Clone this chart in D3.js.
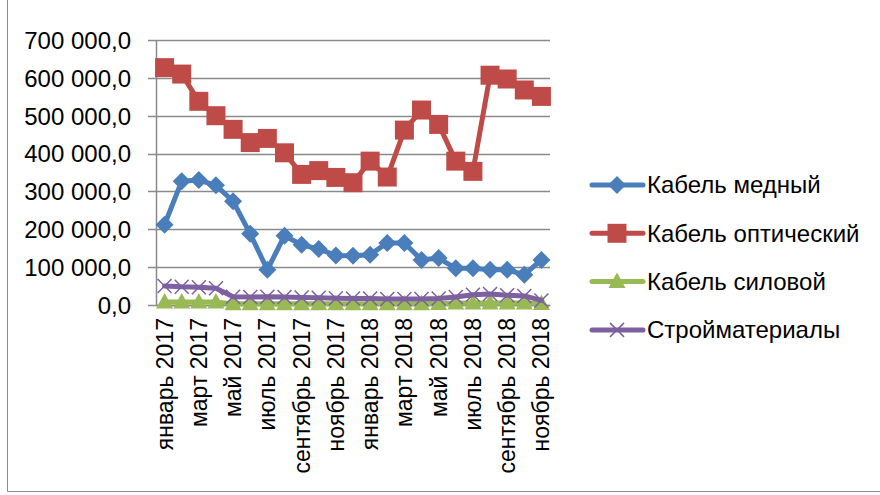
<!DOCTYPE html>
<html>
<head>
<meta charset="utf-8">
<script src="https://cdn.jsdelivr.net/npm/d3@7"></script>
<style>
  body { margin: 0; background: #fff; }
  text { font-family: "Liberation Sans", Arial, sans-serif; fill: #000; }
</style>
</head>
<body>
<div id="chart"></div>
<script>
// Months (Jan 2017 - Nov 2018)
const months = [
  "январь 2017", "февраль 2017", "март 2017", "апрель 2017", "май 2017", "июнь 2017",
  "июль 2017", "август 2017", "сентябрь 2017", "октябрь 2017", "ноябрь 2017", "декабрь 2017",
  "январь 2018", "февраль 2018", "март 2018", "апрель 2018", "май 2018", "июнь 2018",
  "июль 2018", "август 2018", "сентябрь 2018", "октябрь 2018", "ноябрь 2018"
];

const seriesNames = ["Кабель медный", "Кабель оптический", "Кабель силовой", "Стройматериалы"];

const copper = [212000, 327000, 330000, 316000, 274000, 188000, 93000, 183000, 159000, 148000,
  131000, 130000, 133000, 164000, 164000, 119000, 124000, 97000, 97000, 93000, 93000, 80000, 119000];
const optical = [627000, 610000, 538000, 500000, 464000, 429000, 440000, 402000, 345000, 355000,
  337000, 323000, 380000, 338000, 462000, 515000, 477000, 380000, 353000, 607000, 597000, 568000, 551000];
const power = [8000, 8000, 8000, 8000, 3000, 3000, 3000, 3000, 3000, 3000, 3000, 3000,
  3000, 3000, 3000, 3000, 4000, 5000, 5000, 5000, 5000, 5000, 4000];
const materials = [50000, 48000, 47000, 44000, 22000, 21000, 22000, 21000, 20000, 19000, 18000, 17000,
  17000, 16000, 16000, 16000, 17000, 21000, 27000, 29000, 26000, 24000, 12000];

const yTicks = [0, 100000, 200000, 300000, 400000, 500000, 600000, 700000];

const colors = ["#4A7EBB", "#BE4B48", "#98B954", "#7D60A0"];
const shapes = ["diamond", "square", "triangle", "cross"];

// Set dimensions and margins
const W = 880, H = 495;
const margin = { top: 40, right: 330, bottom: 190, left: 156 },
  width = W - margin.left - margin.right,
  height = H - margin.top - margin.bottom;

const root = d3.select("#chart").append("svg").attr("width", W).attr("height", H);

// Chart frame (left and bottom edges visible)
root.append("line").attr("x1", 7.5).attr("x2", 7.5).attr("y1", 0).attr("y2", 491.5)
  .attr("stroke", "#8c8c8c").attr("stroke-width", 1);
root.append("line").attr("x1", 7.5).attr("x2", W).attr("y1", 491.5).attr("y2", 491.5)
  .attr("stroke", "#8c8c8c").attr("stroke-width", 1);

const svg = root.append("g").attr("transform", `translate(${margin.left},${margin.top})`);

// Scales
const x = d3.scaleBand().domain(months).range([0, width]).padding(0);
const y = d3.scaleLinear().domain([0, 700000]).range([height, 0]);
const cx = (d) => x(d) + x.bandwidth() / 2;

const fmt = (v) => d3.format(",.1f")(v).replace(/,/g, " ").replace(".", ",");

// Gridlines
svg.append("g")
  .selectAll("line")
  .data(yTicks)
  .enter()
  .append("line")
  .attr("x1", -8)
  .attr("x2", width)
  .attr("y1", (d) => Math.round(y(d)) + 0.5)
  .attr("y2", (d) => Math.round(y(d)) + 0.5)
  .attr("stroke", "#8a8a8a")
  .attr("stroke-width", 1.5);

// Y axis
const yAxis = svg.append("g")
  .call(d3.axisLeft(y).tickValues(yTicks).tickFormat(fmt).tickSize(0).tickPadding(25));
yAxis.select(".domain").remove();
yAxis.selectAll("text").style("font-size", "24px").attr("dy", "0.35em");

// Y axis line
svg.append("line")
  .attr("x1", 0.5).attr("x2", 0.5).attr("y1", 0).attr("y2", height)
  .attr("stroke", "#8a8a8a").attr("stroke-width", 1.5);

// X axis
const xAxis = svg.append("g")
  .attr("transform", `translate(0,${height})`)
  .call(d3.axisBottom(x).tickValues(months.filter((d, i) => i % 2 === 0)).tickSize(0));
xAxis.select(".domain").attr("stroke", "#8a8a8a").attr("stroke-width", 1.5);
xAxis.selectAll("text")
  .style("font-size", "23px")
  .attr("transform", "rotate(-90)")
  .attr("x", -13)
  .attr("y", 0)
  .attr("dy", "0.35em")
  .style("text-anchor", "end");

// Marker path generator
function markerPath(shape) {
  switch (shape) {
    case "diamond": return "M0,-9L9,0L0,9L-9,0Z";
    case "square": return "M-9.5,-9.5H9.5V9.5H-9.5Z";
    case "triangle": return "M0,-9L8.5,6.5H-8.5Z";
    case "cross": return "M-7,-7L7,7M-7,7L7,-7";
  }
}

function drawMarker(g, shape, color) {
  if (shape === "cross") {
    g.append("path").attr("d", markerPath(shape))
      .attr("fill", "none").attr("stroke", color).attr("stroke-width", 1.5);
  } else {
    g.append("path").attr("d", markerPath(shape)).attr("fill", color);
  }
}

const allSeries = [copper, optical, power, materials];

const line = d3.line()
  .x((d, i) => cx(months[i]))
  .y((d) => y(d));

// Add lines and markers
allSeries.forEach((values, k) => {
  const g = svg.append("g");
  g.append("path")
    .datum(values)
    .attr("fill", "none")
    .attr("stroke", colors[k])
    .attr("stroke-width", 5)
    .attr("stroke-linejoin", "round")
    .attr("stroke-linecap", "round")
    .attr("d", line);
  g.selectAll(".m")
    .data(values)
    .enter()
    .append("g")
    .attr("transform", (d, i) => `translate(${cx(months[i])},${y(d)})`)
    .each(function () { drawMarker(d3.select(this), shapes[k], colors[k]); });
});

// Legend
const legend = root.append("g").attr("transform", "translate(590,185)");
seriesNames.forEach((name, k) => {
  const row = legend.append("g").attr("transform", `translate(0,${k * 48.3})`);
  row.append("line").attr("x1", 2).attr("x2", 53).attr("y1", 0).attr("y2", 0)
    .attr("stroke", colors[k]).attr("stroke-width", 5).attr("stroke-linecap", "round");
  const mg = row.append("g").attr("transform", "translate(27,0)");
  drawMarker(mg, shapes[k], colors[k]);
  row.append("text").attr("x", 57).attr("y", 0).attr("dy", "0.35em")
    .style("font-size", "24px").text(name);
});
</script>
</body>
</html>
